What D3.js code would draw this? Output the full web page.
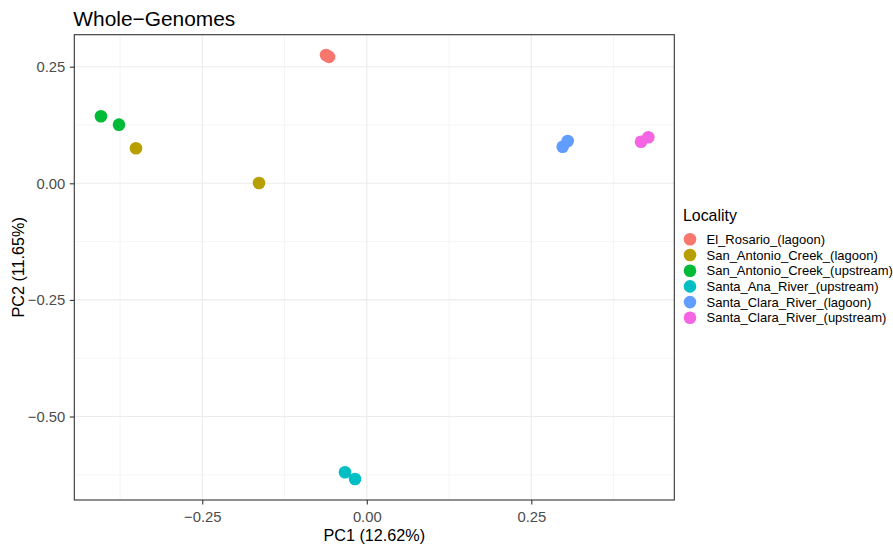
<!DOCTYPE html>
<html><head><meta charset="utf-8">
<script src="https://cdn.jsdelivr.net/npm/d3@7"></script>
<style>body{margin:0;background:#fff;} text{font-family:"Liberation Sans",Arial,sans-serif;}</style>
</head><body>
<svg id="c" width="893" height="544"></svg>
<script>
const categories = ["El_Rosario_(lagoon)","San_Antonio_Creek_(lagoon)","San_Antonio_Creek_(upstream)","Santa_Ana_River_(upstream)","Santa_Clara_River_(lagoon)","Santa_Clara_River_(upstream)"];
const colors = ["#F8766D","#B79F00","#00BA38","#00BFC4","#619CFF","#F564E3"];
const pc1 = [-0.062,-0.0574,-0.3508,-0.1638,-0.404,-0.3766,-0.0331,-0.0179,0.2977,0.3053,0.4167,0.4278];
const pc2 = [0.275,0.271,0.075,0.0006,0.1437,0.1257,-0.6196,-0.634,0.0785,0.0907,0.0892,0.0986];
const locality = [0,0,1,1,2,2,3,3,4,4,5,5];
const xTicks = [-0.25,0,0.25];
const yTicks = [0.25,0,-0.25,-0.5];
const xMinor = [-0.375,-0.125,0.125,0.375];
const yMinor = [0.125,-0.125,-0.375,-0.625];

const svg = d3.select("#c");
const L=74.3,R=674.3,T=34.7,B=500;
const x = d3.scaleLinear().domain([-0.4445,0.4673]).range([L,R]);
const y = d3.scaleLinear().domain([-0.679,0.3186]).range([B,T]);
const fmt = v => d3.format(".2f")(v).replace("-","\u2212");

const g = svg.append("g");
g.selectAll(".xm").data(xMinor).join("line").attr("x1",d=>x(d)).attr("x2",d=>x(d)).attr("y1",T).attr("y2",B).attr("stroke","#ebebeb").attr("stroke-width",0.55);
g.selectAll(".ym").data(yMinor).join("line").attr("y1",d=>y(d)).attr("y2",d=>y(d)).attr("x1",L).attr("x2",R).attr("stroke","#ebebeb").attr("stroke-width",0.55);
g.selectAll(".xM").data(xTicks).join("line").attr("x1",d=>x(d)).attr("x2",d=>x(d)).attr("y1",T).attr("y2",B).attr("stroke","#ebebeb").attr("stroke-width",1.1);
g.selectAll(".yM").data(yTicks).join("line").attr("y1",d=>y(d)).attr("y2",d=>y(d)).attr("x1",L).attr("x2",R).attr("stroke","#ebebeb").attr("stroke-width",1.1);

// points
svg.append("g").selectAll("circle").data(pc1.map((v,i)=>({x:v,y:pc2[i],c:locality[i]})))
  .join("circle").attr("cx",d=>x(d.x)).attr("cy",d=>y(d.y)).attr("r",6.3).attr("fill",d=>colors[d.c]);

svg.append("rect").attr("x",L).attr("y",T).attr("width",R-L).attr("height",B-T).attr("fill","none").attr("stroke","#333").attr("stroke-width",1.1);

// axes
const xa = svg.append("g").attr("transform",`translate(0,${B})`).call(d3.axisBottom(x).tickValues(xTicks).tickFormat(fmt).tickSize(4.5).tickPadding(7));
const ya = svg.append("g").attr("transform",`translate(${L},0)`).call(d3.axisLeft(y).tickValues(yTicks).tickFormat(fmt).tickSize(4.5).tickPadding(4.5));
[xa,ya].forEach(a=>{a.select(".domain").remove();a.selectAll("line").attr("stroke","#333").attr("stroke-width",1.1);
  a.selectAll("text").attr("fill","#4d4d4d").style("font-size","14.8px").style("font-family","'Liberation Sans',Arial,sans-serif");});

svg.append("text").attr("x",(L+R)/2).attr("y",540.5).attr("text-anchor","middle").style("font-size","16.2px").text("PC1 (12.62%)");
svg.append("text").attr("transform",`translate(24,${(T+B)/2}) rotate(-90)`).attr("text-anchor","middle").style("font-size","16.2px").text("PC2 (11.65%)");
svg.append("text").attr("x",L-1).attr("y",26).style("font-size","20.9px").text("Whole\u2212Genomes");

// legend
const lg = svg.append("g");
lg.append("text").attr("x",683).attr("y",220.7).style("font-size","15.9px").text("Locality");
const rows = lg.selectAll(".r").data(categories).join("g").attr("transform",(d,i)=>`translate(0,${239.3+i*15.7})`);
rows.append("circle").attr("cx",690).attr("cy",0).attr("r",6.3).attr("fill",(d,i)=>colors[i]);
rows.append("text").attr("x",706.5).attr("y",4.6).style("font-size","13px").text(d=>d);
</script>
</body></html>
